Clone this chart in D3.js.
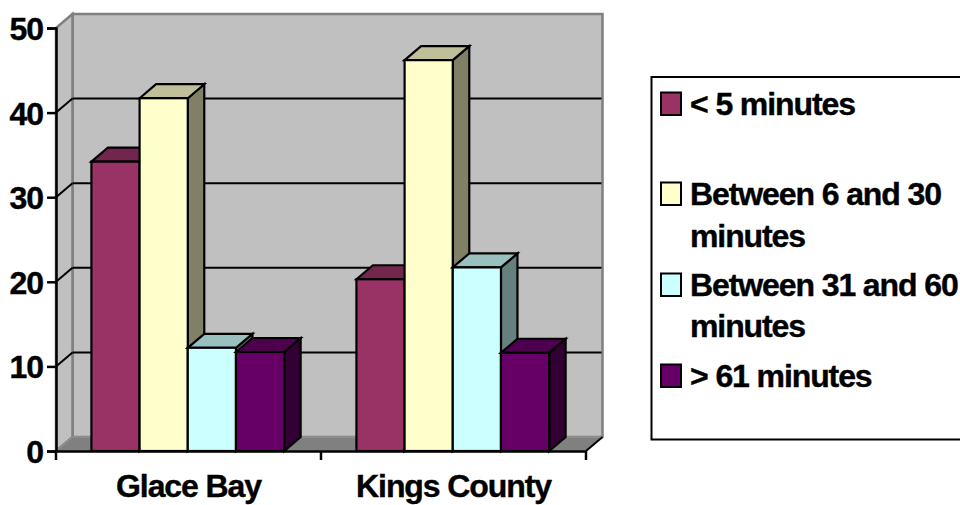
<!DOCTYPE html>
<html><head><meta charset="utf-8">
<script src="https://cdn.jsdelivr.net/npm/d3@7"></script>
<style>html,body{margin:0;padding:0;background:#fff;overflow:hidden}svg{display:block}
text{font-family:"Liberation Sans",Arial,sans-serif;font-weight:bold;font-size:32px;letter-spacing:-1.1px;fill:#000;stroke:#000;stroke-width:.4px}</style>
</head><body><div id="c"></div>
<script>
const categories = ["Glace Bay", "Kings County"];
const seriesNames = ["< 5 minutes", "Between 6 and 30 minutes", "Between 31 and 60 minutes", "> 61 minutes"];
const lessThan5 = [34.2, 20.3];
const from6to30 = [41.7, 46.2];
const from31to60 = [12.2, 21.7];
const over61 = [11.7, 11.6];
const seriesValues = [lessThan5, from6to30, from31to60, over61];
const frontColors = ["#993366", "#ffffcc", "#ccffff", "#660066"];
const topColors = ["#73264d", "#bfbf99", "#99bfbf", "#4d004d"];
const sideColors = ["#4d1a33", "#808066", "#668080", "#330033"];
const yTicks = [0, 10, 20, 30, 40, 50];
const legendLines = [["< 5 minutes"], ["Between 6 and 30", "minutes"], ["Between 31 and 60", "minutes"], ["> 61 minutes"]];

const W = 960, H = 505, dx = 16.5, dy = -14;
const svg = d3.select("#c").append("svg").attr("width", W).attr("height", H);
const y = d3.scaleLinear().domain([0, 50]).range([451, 28]);
const x0 = d3.scaleBand().domain(categories).range([56, 586]);
const x1 = d3.scaleBand().domain(d3.range(4)).range([0, x0.bandwidth()]).paddingOuter(0.75).paddingInner(0).align(0.49);
const poly = pts => pts.map(p => p.join(",")).join(" ");
const L = x0.range()[0], R = x0.range()[1], y0 = y(0), yT = y(50);

// back wall, side wall, floor
svg.append("polygon").attr("points", poly([[L + dx, yT + dy], [R + dx, yT + dy], [R + dx, y0 + dy], [L + dx, y0 + dy]]))
  .attr("fill", "#c0c0c0").attr("stroke", "#808080").attr("stroke-width", 2.5);
svg.append("polygon").attr("points", poly([[L, yT], [L + dx, yT + dy], [L + dx, y0 + dy], [L, y0]]))
  .attr("fill", "#c0c0c0").attr("stroke", "#808080").attr("stroke-width", 2.5);
svg.append("polygon").attr("points", poly([[L, y0], [L + dx, y0 + dy], [R + dx, y0 + dy], [R, y0]]))
  .attr("fill", "#808080").attr("stroke", "#999").attr("stroke-width", 1);

// gridlines
const gridTicks = yTicks.filter(t => t > 0 && t < 50);
svg.append("g").selectAll("line").data(gridTicks).join("line")
  .attr("x1", L + dx).attr("x2", R + dx - 1).attr("y1", d => y(d) + dy).attr("y2", d => y(d) + dy)
  .attr("stroke", "#000").attr("stroke-width", 2);
svg.append("g").selectAll("line").data(gridTicks).join("line")
  .attr("x1", L).attr("x2", L + dx).attr("y1", d => y(d)).attr("y2", d => y(d) + dy)
  .attr("stroke", "#000").attr("stroke-width", 2);

// bars
const bars = svg.append("g").attr("stroke", "#000").attr("stroke-width", 2.2).attr("stroke-linejoin", "miter");
seriesValues.forEach((vals, s) => {
  categories.forEach((c, i) => {
    const a = x0(c) + x1(s), b = a + x1.bandwidth(), t = y(vals[i]);
    const g = bars.append("g");
    g.append("polygon").attr("points", poly([[b, t], [b + dx, t + dy], [b + dx, y0 + dy], [b, y0]])).attr("fill", sideColors[s]);
    g.append("polygon").attr("points", poly([[a, t], [a + dx, t + dy], [b + dx, t + dy], [b, t]])).attr("fill", topColors[s]);
    g.append("rect").attr("x", a).attr("y", t).attr("width", b - a).attr("height", y0 - t).attr("fill", frontColors[s]);
  });
});

// y axis
const yAxis = d3.axisLeft(y).tickValues(yTicks).tickSize(9).tickPadding(4).tickFormat(d3.format("d"));
const gy = svg.append("g").attr("transform", `translate(${L},0)`).call(yAxis);
gy.selectAll("path,line").attr("stroke", "#000").attr("stroke-width", 2.5);
gy.selectAll("text").attr("dy", "0.36em");
gy.attr("font-family", null).attr("font-size", null);

// x axis
const xAxis = d3.axisBottom(x0).tickSize(0).tickPadding(34.5);
const gx = svg.append("g").attr("transform", `translate(0,${y0})`).call(xAxis);
gx.attr("font-family", null).attr("font-size", null);
gx.select("path").attr("stroke", "#000").attr("stroke-width", 2.5);
gx.selectAll("text").attr("dy", "0.36em");
const edges = [L, x0(categories[1]), R];
gx.append("g").selectAll("line").data(edges).join("line")
  .attr("x1", d => d).attr("x2", d => d).attr("y1", 0).attr("y2", 9).attr("stroke", "#000").attr("stroke-width", 2.5);
svg.append("line").attr("x1", R).attr("y1", y0).attr("x2", R + dx).attr("y2", y0 + dy).attr("stroke", "#000").attr("stroke-width", 2);

// legend
const lg = svg.append("g");
lg.append("rect").attr("x", 651.5).attr("y", 77).attr("width", 330).attr("height", 362.5).attr("fill", "#fff").attr("stroke", "#000").attr("stroke-width", 2);
const legendBaselines = [[115], [205, 247], [296, 337], [387]];
legendLines.forEach((lines, i) => {
  const base = legendBaselines[i][0];
  lg.append("rect").attr("x", 661).attr("y", base - 22.5).attr("width", 20).attr("height", 22.5)
    .attr("fill", frontColors[i]).attr("stroke", "#000").attr("stroke-width", 2);
  lines.forEach((t, j) => lg.append("text").attr("x", 690).attr("y", legendBaselines[i][j]).text(t));
});
</script></body></html>
